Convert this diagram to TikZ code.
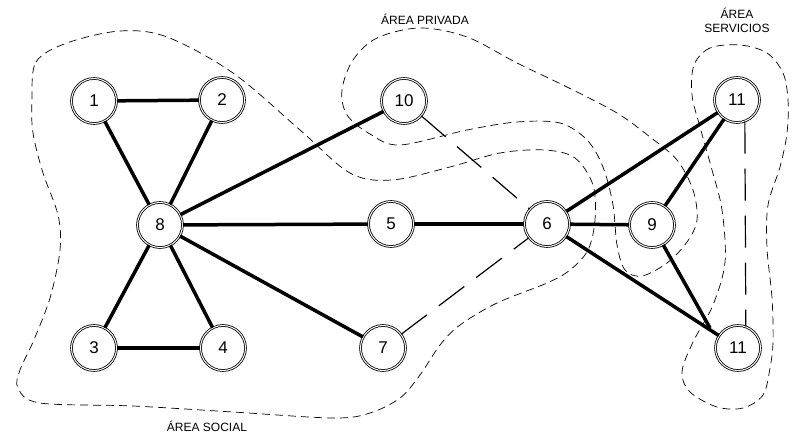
\documentclass[tikz,border=0pt]{standalone}
\usepackage{fontspec}
\setmainfont{Liberation Sans}
\begin{document}
\begin{tikzpicture}[x=1pt,y=-1pt,
  room/.style={circle,draw,double,double distance=1pt,line width=0.8pt,fill=white,
    minimum size=45pt,inner sep=0pt,font=\fontsize{17}{17}\selectfont},
  link/.style={line width=3.5pt},
  weak/.style={line width=1.2pt,dash pattern=on 32pt off 15pt},
  zone/.style={line width=0.7pt,dash pattern=on 8pt off 5pt},
  zonelabel/.style={font=\fontsize{12}{14}\selectfont,align=center}]
\useasboundingbox (0,0) rectangle (799,435);

\draw[zone] plot[smooth cycle,tension=0.55] coordinates {(32,100) (36,62) (67,43) (120,31)
  (167,37) (233,73) (300,130) (350,173) (392,180) (450,167) (500,153) (545,150) (575,158)
  (593,185) (595,220) (588,250) (570,270) (547,283) (497,303) (460,325) (440,345) (420,375)
  (400,398) (370,413) (333,418) (233,412) (133,406) (40,403) (18,388) (20,370) (33,342)
  (50,298) (60,250) (58,215) (43,173) (33,133)};
\draw[zone] plot[smooth cycle,tension=0.55] coordinates {(342,90) (353,60) (377,38) (420,28)
  (467,37) (517,63) (567,87) (617,113) (650,137) (677,160) (693,190) (697,220) (687,242)
  (667,263) (642,276) (625,270) (617,245) (613,205) (603,167) (587,140) (560,123) (517,122)
  (467,130) (400,145) (370,134) (347,115)};
\draw[zone] plot[smooth cycle,tension=0.55] coordinates {(740,45) (710,48) (694,65) (692,95)
  (700,127) (712,170) (722,210) (725,262) (713,305) (693,342) (682,372) (690,392) (717,407)
  (743,408) (763,395) (770,368) (773,342) (772,298) (767,248) (768,205) (780,167) (787,133)
  (788,100) (783,73) (767,53)};

\node[zonelabel] (lprivada) at (425,19) {ÁREA PRIVADA};
\node[zonelabel] (lservicios) at (737,20) {ÁREA\\SERVICIOS};
\node[zonelabel] (lsocial) at (207,426) {ÁREA SOCIAL};

\node[room] (n1) at (94,101) {1};
\node[room] (n2) at (222,100) {2};
\node[room] (n8) at (160,225) {8};
\node[room] (n3) at (94,348) {3};
\node[room] (n4) at (223,348) {4};
\node[room] (n5) at (391,224) {5};
\node[room] (n7) at (383,348) {7};
\node[room] (n6) at (547,224) {6};
\node[room] (n9) at (652,225) {9};
\node[room] (n10) at (404,101) {10};
\node[room] (n11a) at (737,100) {11};
\node[room] (n11b) at (738,348) {11};
\coordinate (p9) at (710,328);

\draw[link] (n1) -- (n2);
\draw[link] (n1) -- (n8);
\draw[link] (n2) -- (n8);
\draw[link] (n3) -- (n4);
\draw[link] (n8) -- (n3);
\draw[link] (n8) -- (n4);
\draw[link] (n8) -- (n10);
\draw[link] (n8) -- (n5);
\draw[link] (n8) -- (n7);
\draw[link] (n5) -- (n6);
\draw[link] (n6) -- (n9);
\draw[link] (n6) -- (n11a);
\draw[link] (n6) -- (n11b);
\draw[link] (n9) -- (n11a);
\draw[link] (n9) -- (p9);

\draw[weak] (n10) -- (n6);
\draw[weak] (n7) -- (n6);
\draw[weak] (n11a.-70) -- (n11b.70);
\end{tikzpicture}
\end{document}
